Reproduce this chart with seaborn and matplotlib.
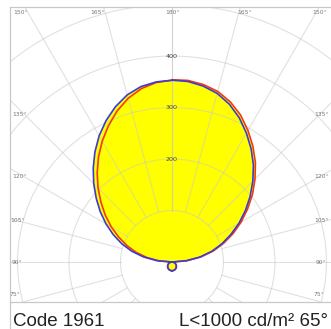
import numpy as np
import pandas as pd
import matplotlib
matplotlib.use("Agg")
import matplotlib.pyplot as plt
import seaborn as sns
from matplotlib.patches import Circle
from matplotlib.lines import Line2D

# ---------------- data ----------------
theta = list(range(0, 181, 5))  # degrees from nadir (0 = down, 180 = up)

# small downward lobe, theta 0..85 (same for both planes)
lower_lobe = [17, 16.9, 16.7, 16.4, 16, 15.4, 14.7, 13.9, 13, 12,
              10.9, 9.8, 8.5, 7.2, 5.8, 4.4, 3, 1.5]

# upward part, theta 90..180
blue_left_up = [1, 29, 56, 81, 104, 126, 148, 170, 192, 215,
                238, 261, 283, 303, 321, 336, 346, 351, 353]
blue_right_up = [1, 28, 55, 80, 103, 126, 150, 174, 198, 222,
                 246, 268, 289, 309, 326, 339, 347, 352, 353]
red_left_up = [1, 25, 49, 72, 93, 114, 136, 158, 180, 203,
               226, 249, 271, 292, 312, 329, 342, 350, 353]
red_right_up = [1, 29, 57, 83, 107, 131, 155, 179, 204, 228,
                252, 274, 295, 315, 331, 343, 350, 354, 354]

ring_values = [100, 200, 300, 400, 500, 600]
ring_labels = ["200", "300", "400"]
spoke_angles = list(range(0, 181, 15))

top_labels = ["150°", "165°", "180°", "165°", "150°"]
side_labels = ["135°", "120°", "105°", "90°", "75°"]

caption_left = "Code 1961"
caption_right = "L<1000 cd/m² 65°"

# ---------------- figure ----------------
sns.set_style("white")
plt.rcParams["font.family"] = ["Liberation Sans", "DejaVu Sans"]

W, H = 331, 329
fig = plt.figure(figsize=(W / 100, H / 100), dpi=100)
fig.patch.set_facecolor("white")

# axes box in pixel: x 10..331, y 7..302
ax = fig.add_axes([10 / W, (H - 302) / H, 321 / W, 295 / H])
s = 1.942  # cd per pixel
cx, cy = 172, 262
ax.set_xlim((10 - cx) * s, (331 - cx) * s)
ax.set_ylim(-(302 - cy) * s, (cy - 7) * s)
ax.set_xticks([])
ax.set_yticks([])
border = "#c8c8c8"
for side in ["left", "top", "bottom"]:
    ax.spines[side].set_color(border)
    ax.spines[side].set_linewidth(0.9)
ax.spines["right"].set_visible(False)

# left border continues down to the bottom of the image
fig.add_artist(Line2D([10 / W, 10 / W], [0, (H - 302) / H],
                      color=border, lw=0.9, transform=fig.transFigure))


def curve(left_vals, right_vals):
    th = np.radians(np.array(theta, dtype=float))
    Il = np.array(lower_lobe + left_vals, dtype=float)
    Ir = np.array(lower_lobe + right_vals, dtype=float)
    xr = Ir * np.sin(th)
    yr = -Ir * np.cos(th)
    xl = -Il[::-1] * np.sin(th[::-1])
    yl = -Il[::-1] * np.cos(th[::-1])
    return np.concatenate([xr, xl]), np.concatenate([yr, yl])


bx, by = curve(blue_left_up, blue_right_up)
rx, ry = curve(red_left_up, red_right_up)

df = pd.concat([
    pd.DataFrame({"x": bx, "y": by, "plane": "C90-C270"}),
    pd.DataFrame({"x": rx, "y": ry, "plane": "C0-C180"}),
])

# yellow fill
ax.fill(bx, by, color="#ffff00", lw=0, zorder=1)
ax.fill(rx, ry, color="#ffff00", lw=0, zorder=1)

# polar grid
gcol = "#c8c8c8"
for r in ring_values:
    ax.add_patch(Circle((0, 0), r, fill=False, ec=gcol, lw=0.8, alpha=0.55, zorder=2))
for a in spoke_angles:
    ar = np.radians(a)
    for sgn in (-1, 1):
        ax.plot([sgn * 100 * np.sin(ar), sgn * 900 * np.sin(ar)],
                [-100 * np.cos(ar), -900 * np.cos(ar)],
                color=gcol, lw=0.8, alpha=0.55, zorder=2)

# curves
sns.lineplot(data=df, x="x", y="y", hue="plane",
             sort=False, estimator=None, legend=False, ax=ax,
             palette={"C90-C270": "#3b3bd6", "C0-C180": "#f23a12"},
             hue_order=["C0-C180", "C90-C270"], lw=1.2, zorder=3)

# ring labels
for lab in ring_labels:
    ax.text(0, float(lab), lab, ha="center", va="center", fontsize=4.6,
            color="#444444", zorder=4, family=["DejaVu Sans"])

# angle labels (positions in pixels -> data)
def px2d(px, py):
    return (px - cx) * s, (cy - py) * s

top_px = [21, 98, 172, 245, 320]
for lab, px in zip(top_labels, top_px):
    x, y = px2d(px, 12)
    ax.text(x, y, lab, ha="center", va="center", fontsize=4.3, color="#777777",
            zorder=4, family=["DejaVu Sans"])
side_py = [114, 176, 220, 262, 295]
left_px = [20, 20, 18, 17, 15]
right_px = [322, 322, 322, 321, 319]
for lab, py, lx, rxp in zip(side_labels, side_py, left_px, right_px):
    x, y = px2d(lx, py)
    ax.text(x, y, lab, ha="center", va="center", fontsize=4.3, color="#777777",
            zorder=4, family=["DejaVu Sans"])
    x, y = px2d(rxp, py)
    ax.text(x, y, lab, ha="center", va="center", fontsize=4.3, color="#777777",
            zorder=4, family=["DejaVu Sans"])

ax.set_xlabel("")
ax.set_ylabel("")

# captions
fig.text(13 / W, (H - 326) / H, caption_left, ha="left", va="baseline",
         fontsize=13.5, color="#222222")
fig.text(328 / W, (H - 326) / H, caption_right, ha="right", va="baseline",
         fontsize=13.5, color="#222222")

fig.savefig("out.png", dpi=100, facecolor="white")
